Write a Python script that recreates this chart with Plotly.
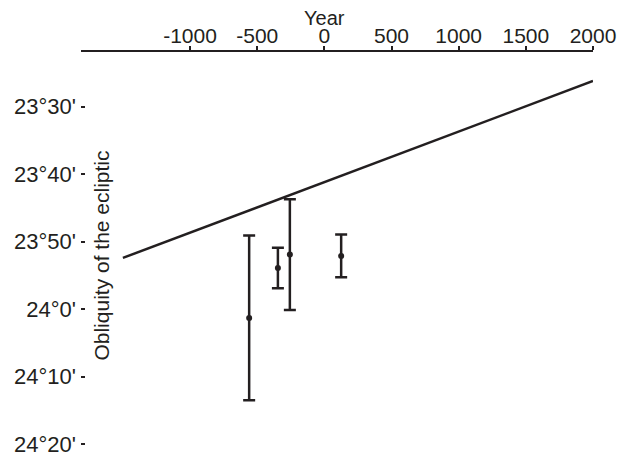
import plotly.graph_objects as go

# Model curve: year vs obliquity (total arcminutes)
line_years = [-1500, 2000]
line_obliquity = [1432.4, 1406.2]

# Observations with uncertainty (arcminutes)
obs_years = [-560, -346, -257, 125]
obs_obliquity = [1441.3, 1433.9, 1431.9, 1432.1]
obs_error = [12.2, 3.0, 8.2, 3.15]

x_ticks = [-1000, -500, 0, 500, 1000, 1500, 2000]
x_ticktext = ["-1000", "-500", "0", "500", "1000", "1500", "2000"]
y_ticks = [1410, 1420, 1430, 1440, 1450, 1460]
y_ticktext = ["23°30'", "23°40'", "23°50'", "24°0'", "24°10'", "24°20'"]

INK = "#231f20"
FONT = "Liberation Sans, Arial, sans-serif"

fig = go.Figure()
fig.add_trace(go.Scatter(x=line_years, y=line_obliquity, mode="lines",
                         line=dict(color=INK, width=2.5), showlegend=False))
fig.add_trace(go.Scatter(x=obs_years, y=obs_obliquity, mode="markers",
                         marker=dict(color=INK, size=6),
                         error_y=dict(type="data", array=obs_error, visible=True,
                                      color=INK, thickness=2.5, width=6),
                         showlegend=False))

fig.update_layout(
    width=620, height=453,
    margin=dict(l=81, r=27.3, t=52.3, b=0),
    paper_bgcolor="white", plot_bgcolor="white",
    font=dict(family=FONT, size=20, color="#231f20"),
    xaxis=dict(side="top", range=[-1812, 2000], tickvals=x_ticks,
               ticktext=x_ticktext, automargin=False,
               showline=True, linewidth=2, linecolor=INK,
               ticks="outside", ticklen=4, tickwidth=2, tickcolor=INK,
               showgrid=False, zeroline=False, tickfont=dict(size=21),
               ticklabelstandoff=-5, ticklabeloverflow="allow"),
    yaxis=dict(range=[1461.3, 1401.9], tickvals=y_ticks, ticktext=y_ticktext,
               automargin=False,
               showline=False, ticks="inside", ticklen=4, tickwidth=2,
               tickcolor=INK, showgrid=False, zeroline=False,
               ticklabelstandoff=4, tickfont=dict(size=22),
               ticklabeloverflow="allow"),
    annotations=[
        dict(text="Year", x=0, xref="x", y=(453 - 18.5) / (453 - 52.3),
             yref="paper", xanchor="center", yanchor="middle",
             showarrow=False, font=dict(size=20)),
        dict(text="Obliquity of the ecliptic", x=(101.7 - 81) / (620 - 81 - 27.3),
             xref="paper", y=(453 - 256) / (453 - 52.3), yref="paper",
             textangle=-90, xanchor="center", yanchor="middle",
             showarrow=False, font=dict(size=21)),
    ],
)

# remove the default page margin so the figure sits at the window's corner
fig.write_html(
    "out.html",
    config={"displayModeBar": False},
    post_script="document.body.style.margin='0';"
                "document.body.style.overflow='hidden';"
                "document.documentElement.style.overflow='hidden';",
)
